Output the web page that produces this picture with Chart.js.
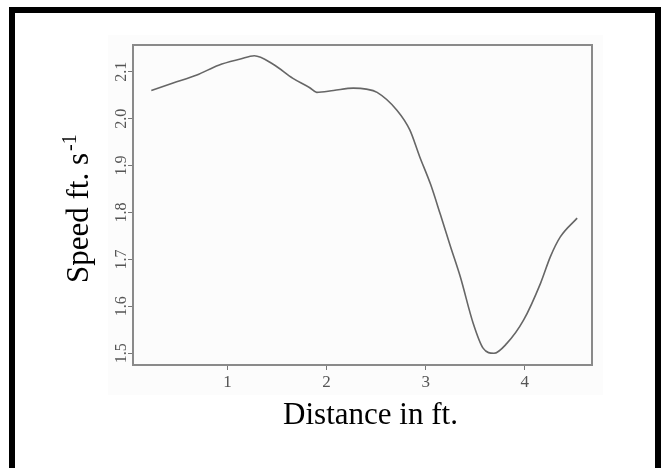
<!DOCTYPE html>
<html>
<head>
<meta charset="utf-8">
<script src="https://cdn.jsdelivr.net/npm/chart.js@4.4.1/dist/chart.umd.min.js"></script>
<style>
  html, body { margin: 0; padding: 0; background: #ffffff; overflow: hidden; }
  #wrap { position: relative; width: 671px; height: 468px; }
  #paper { position: absolute; left: 108px; top: 35px; width: 495px; height: 360px; background: #fcfcfc; }
  #chart { position: absolute; left: 0; top: 0; }
  #frame {
    position: absolute; left: 9px; top: 7px; width: 640px; height: 600px;
    border-left: 6px solid #000; border-top: 6px solid #000; border-right: 6px solid #000;
    pointer-events: none;
  }
</style>
</head>
<body>
<div id="wrap">
  <div id="paper"></div>
  <canvas id="chart" width="671" height="468"></canvas>
  <div id="frame"></div>
</div>
<script>
// Walking speed measured along the distance covered
const distance = [0.23, 0.45, 0.69, 0.91, 1.13, 1.27, 1.46, 1.66, 1.83, 1.90,
                  2.07, 2.27, 2.40, 2.51, 2.71, 2.84, 2.94, 3.05, 3.15, 3.25,
                  3.35, 3.48, 3.58, 3.69, 3.82, 3.99, 4.16, 4.26, 4.36, 4.53];
const speed = [2.060, 2.076, 2.093, 2.114, 2.127, 2.134, 2.116, 2.086, 2.066, 2.056,
               2.060, 2.065, 2.063, 2.056, 2.018, 1.976, 1.919, 1.860, 1.795, 1.728,
               1.663, 1.564, 1.511, 1.500, 1.521, 1.571, 1.649, 1.706, 1.748, 1.788];
const xTicks = [1, 2, 3, 4];
const yTicks = [1.5, 1.6, 1.7, 1.8, 1.9, 2.0, 2.1];
const xTitle = 'Distance in ft.';
const yTitle = 'Speed ft. s';
const yTitleSup = '-1';

const points = distance.map((d, i) => ({ x: d, y: speed[i] }));

const SERIF = '"Liberation Serif", "Times New Roman", serif';

// Soft look for the plotted panel, crisp titles on top
const panelStyle = {
  id: 'panelStyle',
  beforeDraw(chart) {
    chart.ctx.save();
    chart.ctx.filter = 'blur(0.45px)';
  },
  afterDatasetsDraw(chart) {
    const { ctx, chartArea: a, scales } = chart;
    // box around the panel
    ctx.save();
    ctx.strokeStyle = '#8a8a8a';
    ctx.lineWidth = 2;
    ctx.strokeRect(a.left, a.top, a.right - a.left, a.bottom - a.top);
    ctx.restore();

    // y tick labels, written along the axis
    const ys = scales.y;
    ctx.save();
    ctx.fillStyle = '#555';
    ctx.font = '16px ' + SERIF;
    ctx.textAlign = 'center';
    ctx.textBaseline = 'middle';
    yTicks.forEach(v => {
      const py = ys.getPixelForValue(v);
      ctx.save();
      ctx.translate(a.left - 11, py);
      ctx.rotate(-Math.PI / 2);
      ctx.fillText(v.toFixed(1), 0, 0);
      ctx.restore();
    });
    ctx.restore();
    ctx.restore();
  },
  afterDraw(chart) {
    const { ctx, chartArea: a } = chart;
    ctx.save();
    ctx.filter = 'none';
    ctx.fillStyle = '#000';
    ctx.font = '31px ' + SERIF;
    ctx.textAlign = 'center';
    ctx.textBaseline = 'alphabetic';
    ctx.fillText(xTitle, (a.left + a.right) / 2 + 8, a.bottom + 59);

    ctx.translate(a.left - 45, a.bottom - 82);
    ctx.rotate(-Math.PI / 2);
    ctx.textAlign = 'left';
    ctx.fillText(yTitle, 0, 0);
    const w = ctx.measureText(yTitle).width;
    ctx.font = '20px ' + SERIF;
    ctx.fillText(yTitleSup, w + 2, -12);
    ctx.restore();
  }
};

new Chart(document.getElementById('chart'), {
  type: 'scatter',
  data: {
    datasets: [{
      data: points,
      showLine: true,
      borderColor: '#666',
      borderWidth: 1.6,
      pointRadius: 0,
      cubicInterpolationMode: 'monotone',
      fill: false
    }]
  },
  options: {
    responsive: false,
    animation: false,
    events: [],
    layout: { padding: { left: 0, top: 45, right: 79, bottom: 0 } },
    plugins: { legend: { display: false }, tooltip: { enabled: false } },
    scales: {
      x: {
        type: 'linear',
        min: 0.045,
        max: 4.68,
        afterBuildTicks: s => { s.ticks = xTicks.map(v => ({ value: v })); },
        afterFit: s => { s.height = 103; },
        grid: { drawOnChartArea: false, drawTicks: true, tickLength: 5, tickColor: '#777', lineWidth: 1 },
        border: { color: '#8a8a8a', width: 2 },
        ticks: {
          color: '#555',
          font: { family: SERIF, size: 17 },
          padding: 2,
          maxRotation: 0,
          callback: v => String(v)
        }
      },
      y: {
        type: 'linear',
        min: 1.475,
        max: 2.157,
        afterBuildTicks: s => { s.ticks = yTicks.map(v => ({ value: v })); },
        afterFit: s => { s.width = 133; },
        grid: { drawOnChartArea: false, drawTicks: true, tickLength: 5, tickColor: '#777', lineWidth: 1 },
        border: { color: '#8a8a8a', width: 2 },
        ticks: { display: false }
      }
    }
  },
  plugins: [panelStyle]
});
</script>
</body>
</html>
